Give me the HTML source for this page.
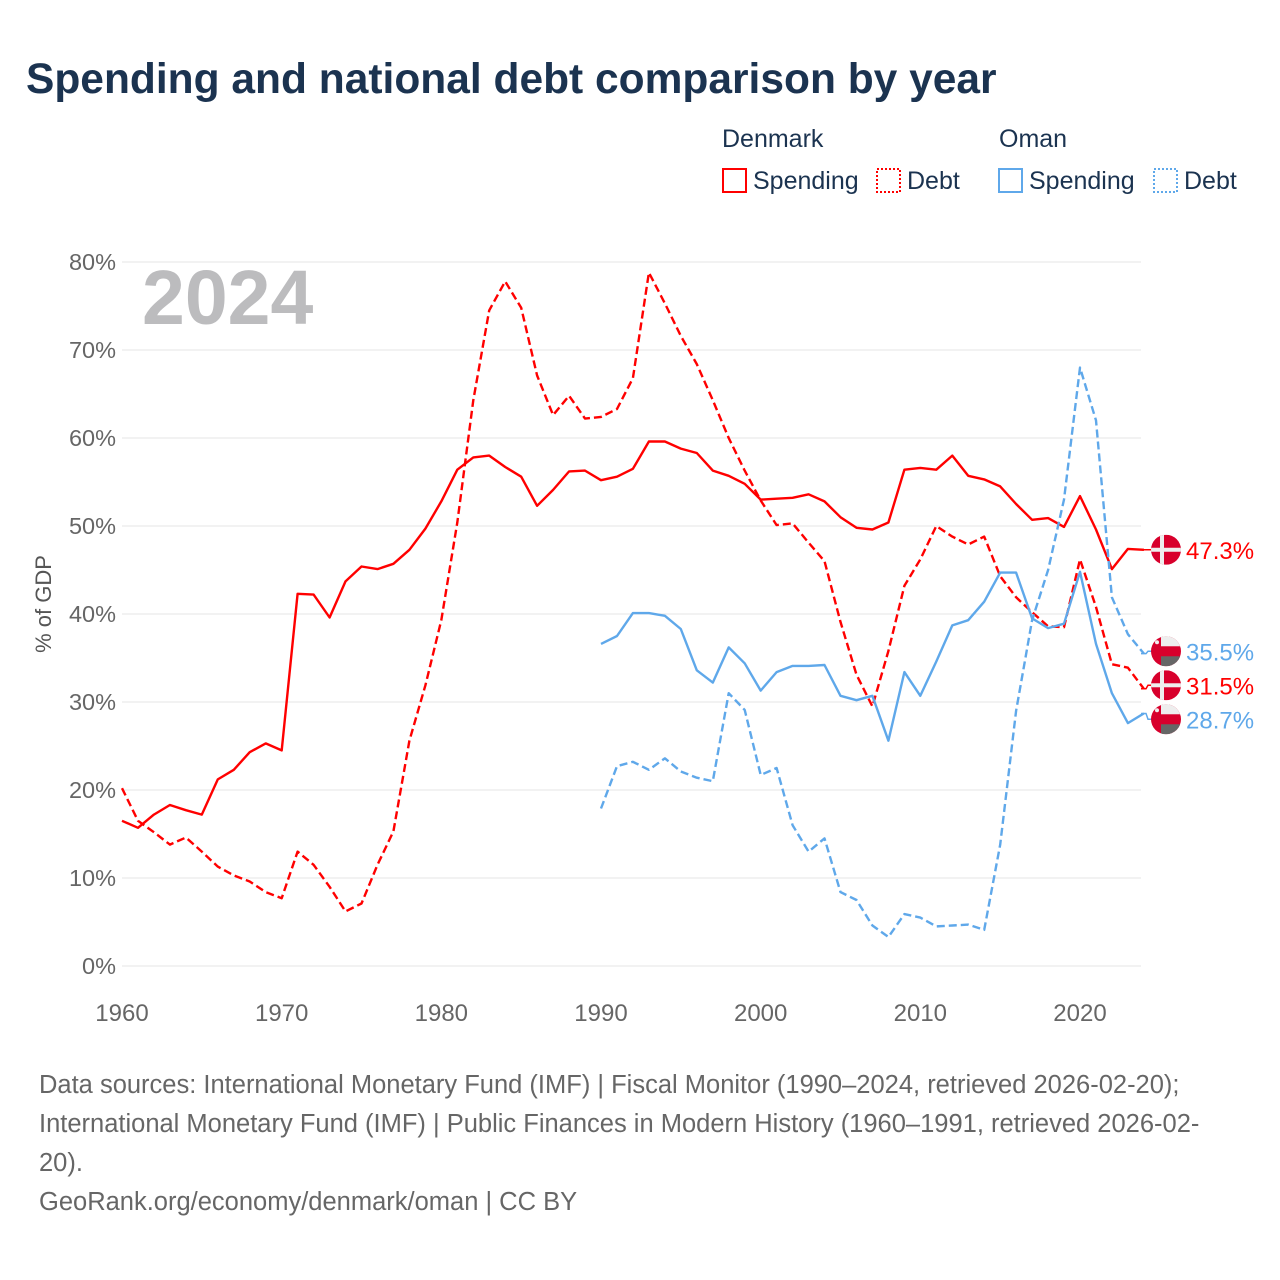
<!DOCTYPE html>
<html><head><meta charset="utf-8">
<style>
body{margin:0;background:#fff;font-family:"Liberation Sans",sans-serif;}
#wrap{position:relative;width:1280px;height:1280px;overflow:hidden;}
</style></head>
<body>
<div id="wrap">
<svg id="chart" width="1280" height="1280">
<text x="26" y="93" font-size="42.5" font-weight="bold" fill="#1b3350">Spending and national debt comparison by year</text>
<g font-size="25" fill="#1b3350">
<text x="722" y="147">Denmark</text>
<text x="999" y="147">Oman</text>
<g><rect x="723" y="169" width="23" height="23" fill="none" stroke="#ff0000" stroke-width="2"/><text x="753" y="189">Spending</text></g>
<g><rect x="877" y="169" width="23" height="23" fill="none" stroke="#ff0000" stroke-width="2" stroke-dasharray="2,2"/><text x="907" y="189">Debt</text></g>
<g><rect x="999" y="169" width="23" height="23" fill="none" stroke="#5fa8ea" stroke-width="2"/><text x="1029" y="189">Spending</text></g>
<g><rect x="1154" y="169" width="23" height="23" fill="none" stroke="#5fa8ea" stroke-width="2" stroke-dasharray="2,2"/><text x="1184" y="189">Debt</text></g>
</g>
<text x="142" y="324" font-size="77" font-weight="bold" fill="#bcbcbe">2024</text>
<text transform="translate(51,604) rotate(-90)" text-anchor="middle" font-size="22" fill="#555">% of GDP</text>
<g id="grid"></g><g id="xt"></g><g id="lines"></g><g id="ends"></g>
<g font-size="25.5" fill="#666">
<text x="39" y="1093">Data sources: International Monetary Fund (IMF) | Fiscal Monitor (1990–2024, retrieved 2026-02-20);</text>
<text x="39" y="1132">International Monetary Fund (IMF) | Public Finances in Modern History (1960–1991, retrieved 2026-02-</text>
<text x="39" y="1171">20).</text>
<text x="39" y="1210">GeoRank.org/economy/denmark/oman | CC BY</text>
</g>
</svg>
</div>
<script>
const yTicks=[0,10,20,30,40,50,60,70,80];
const xTicks=[1960,1970,1980,1990,2000,2010,2020];
const dkSpending=[16.5,15.7,17.2,18.3,17.7,17.2,21.2,22.3,24.3,25.3,24.5,42.3,42.2,39.6,43.7,45.4,45.1,45.7,47.3,49.7,52.8,56.4,57.8,58.0,56.7,55.6,52.3,54.1,56.2,56.3,55.2,55.6,56.5,59.6,59.6,58.8,58.3,56.3,55.7,54.8,53.0,53.1,53.2,53.6,52.8,51.0,49.8,49.6,50.4,56.4,56.6,56.4,58.0,55.7,55.3,54.5,52.5,50.7,50.9,49.9,53.4,49.6,45.1,47.4,47.3];
const dkDebt=[20.2,16.5,15.2,13.8,14.6,13.0,11.3,10.3,9.6,8.4,7.7,13.0,11.5,9.0,6.2,7.1,11.5,15.3,25.6,31.9,39.3,50.4,64.3,74.5,77.8,74.8,67.1,62.6,64.8,62.2,62.4,63.3,66.8,78.8,75.3,71.6,68.4,64.3,60.0,56.3,52.9,50.1,50.3,48.1,46.0,39.1,33.1,29.5,35.8,43.2,46.2,50.0,48.8,47.9,48.8,44.3,41.9,40.2,38.6,38.5,46.2,40.8,34.3,33.9,31.5];
const omSpending=[36.6,37.5,40.1,40.1,39.8,38.3,33.6,32.2,36.2,34.4,31.3,33.4,34.1,34.1,34.2,30.7,30.2,30.7,25.6,33.4,30.7,34.6,38.7,39.3,41.4,44.7,44.7,39.5,38.4,38.9,44.8,36.6,31.0,27.6,28.7];
const omDebt=[17.9,22.7,23.2,22.3,23.6,22.1,21.4,21.0,31.0,29.1,21.7,22.5,16.0,13.0,14.5,8.4,7.5,4.6,3.3,5.9,5.5,4.5,4.6,4.7,4.1,13.8,29.0,39.3,45.0,53.0,68.0,62.0,41.9,37.7,35.5];
const NS="http://www.w3.org/2000/svg";
function X(yr){return 122+(yr-1960)*(958/60);}
function Y(v){return 966-v*8.8;}
function mk(t,a,p){const e=document.createElementNS(NS,t);for(const k in a)e.setAttribute(k,a[k]);p.appendChild(e);return e;}
const grid=document.getElementById('grid');
yTicks.forEach(v=>{
 const l=mk('line',{x1:122,x2:1141,y1:Y(v),y2:Y(v),stroke:'#e4e4e4','stroke-width':1},grid);
 
 
 const t=mk('text',{x:116,y:Y(v)+8,'text-anchor':'end','font-size':23.5,fill:'#666'},grid);
 t.textContent=v+'%';
 
 
});
const xt=document.getElementById('xt');
xTicks.forEach(yr=>{
 const t=mk('text',{x:X(yr),y:1021,'text-anchor':'middle','font-size':24,fill:'#666'},xt);
 t.textContent=yr;
 
 
});
const lines=document.getElementById('lines');
function series(arr,start,color,dash,name){
 const d=arr.map((v,i)=>(i?'L':'M')+X(start+i).toFixed(1)+','+Y(v).toFixed(1)).join('');
 const p=mk('path',{d:d,fill:'none',stroke:color,'stroke-width':2.4,'stroke-linejoin':'round'},lines);
 if(dash)p.setAttribute('stroke-dasharray','8,4');
 
 
}
series(dkSpending,1960,'#ff0000',false,'line-denmark-spending');
series(dkDebt,1960,'#ff0000',true,'line-denmark-debt');
series(omSpending,1990,'#5fa8ea',false,'line-oman-spending');
series(omDebt,1990,'#5fa8ea',true,'line-oman-debt');
const ends=document.getElementById('ends');
const items=[
 {v:dkSpending[dkSpending.length-1],c:'#ff0000',f:'dk',n:'end-label-denmark-spending'},
 {v:omDebt[omDebt.length-1],c:'#5fa8ea',f:'om',n:'end-label-oman-debt'},
 {v:dkDebt[dkDebt.length-1],c:'#ff0000',f:'dk',n:'end-label-denmark-debt'},
 {v:omSpending[omSpending.length-1],c:'#5fa8ea',f:'om',n:'end-label-oman-spending'}
];
items.sort((a,b)=>b.v-a.v);
items.forEach(it=>it.y=Y(it.v));
// collision avoidance: iterative spreading
const GAP=34;
for(let iter=0;iter<50;iter++){
 for(let i=1;i<items.length;i++){
  const ov=items[i-1].y+GAP-items[i].y;
  if(ov>0){items[i-1].y-=ov/2;items[i].y+=ov/2;}
 }
}
items.forEach(it=>{
 const y=it.y, ly=Y(it.v);
 const g=mk('g',{},ends);
 
 
 mk('path',{d:'M1141,'+ly+' L1146,'+ly+' L1148,'+y+' L1152,'+y,fill:'none',stroke:it.c,'stroke-width':1.5},g);
 const cx=1166,r=15;
 const cp='cp'+it.n;
 const c=mk('clipPath',{id:cp},g);mk('circle',{cx:cx,cy:y,r:r},c);
 const f=mk('g',{'clip-path':'url(#'+cp+')'},g);
 if(it.f==='dk'){
  mk('rect',{x:cx-r,y:y-r,width:2*r,height:2*r,fill:'#d8002c'},f);
  mk('rect',{x:cx-r,y:y-2,width:2*r,height:4,fill:'#eee'},f);
  mk('rect',{x:cx-6,y:y-r,width:4,height:2*r,fill:'#eee'},f);
 }else{
  mk('rect',{x:cx-r,y:y-r,width:2*r,height:2*r,fill:'#d8002c'},f);
  mk('rect',{x:cx-5,y:y-r,width:r+5,height:10,fill:'#eee'},f);
  mk('rect',{x:cx-5,y:y+5,width:r+5,height:10,fill:'#666'},f);
  mk('circle',{cx:cx-9,cy:y-9,r:2,fill:'#eee'},f);
 }
 const t=mk('text',{x:1186,y:y+9,'font-size':24,fill:it.c},g);
 t.textContent=it.v.toFixed(1)+'%';
});
</script>
</body></html>
